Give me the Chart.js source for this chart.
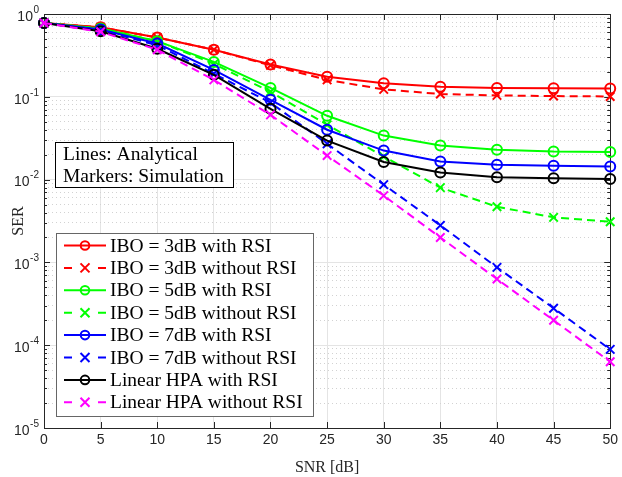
<!DOCTYPE html>
<html>
<head>
<meta charset="utf-8">
<script src="https://cdn.jsdelivr.net/npm/chart.js@4/dist/chart.umd.min.js"></script>
<style>
  html, body { margin: 0; padding: 0; background: #fff; }
</style>
</head>
<body>
<canvas id="myChart" width="622" height="477"></canvas>
<script>

// values
const snr = [0, 5, 10, 15, 20, 25, 30, 35, 40, 45, 50];

const ibo3WithRsi     = [0.78, 0.69, 0.52, 0.37, 0.245, 0.175, 0.146, 0.132, 0.128, 0.127, 0.126];
const ibo3WithoutRsi  = [0.78, 0.69, 0.52, 0.37, 0.24, 0.16, 0.123, 0.108, 0.104, 0.102, 0.101];
const ibo5WithRsi     = [0.78, 0.67, 0.47, 0.264, 0.128, 0.059, 0.034, 0.0258, 0.0229, 0.0218, 0.0215];
const ibo5WithoutRsi  = [0.78, 0.67, 0.47, 0.25, 0.115, 0.046, 0.019, 0.008, 0.0047, 0.0035, 0.0031];
const ibo7WithRsi     = [0.78, 0.65, 0.44, 0.211, 0.092, 0.04, 0.0224, 0.0165, 0.0151, 0.0147, 0.0144];
const ibo7WithoutRsi  = [0.78, 0.64, 0.42, 0.19, 0.085, 0.027, 0.0087, 0.0028, 0.00087, 0.00028, 0.000089];
const linearWithRsi   = [0.78, 0.62, 0.38, 0.184, 0.0715, 0.0296, 0.0163, 0.0122, 0.0107, 0.0104, 0.0102];
const linearWithoutRsi = [0.78, 0.61, 0.37, 0.16, 0.0605, 0.0195, 0.0064, 0.002, 0.00063, 0.0002, 0.000063];

const seriesLabels = [
    'IBO = 3dB with RSI', 'IBO = 3dB without RSI',
    'IBO = 5dB with RSI', 'IBO = 5dB without RSI',
    'IBO = 7dB with RSI', 'IBO = 7dB without RSI',
    'Linear HPA with RSI', 'Linear HPA without RSI'
];
const seriesValues = [
    ibo3WithRsi, ibo3WithoutRsi, ibo5WithRsi, ibo5WithoutRsi,
    ibo7WithRsi, ibo7WithoutRsi, linearWithRsi, linearWithoutRsi
];

const xTickValues = [0, 5, 10, 15, 20, 25, 30, 35, 40, 45, 50];
const yExponents = [-5, -4, -3, -2, -1, 0];
const noteLines = ['Lines: Analytical', 'Markers: Simulation'];

// styles
const seriesColors = ['#ff0000', '#ff0000', '#00ff00', '#00ff00', '#0000ff', '#0000ff', '#000000', '#ff00ff'];
const seriesDashed = [false, true, false, true, false, true, false, true];

const axisColor = '#262626';
const serifFont = '"Liberation Serif", "DejaVu Serif", serif';
const sansFont = '"Liberation Sans", Arial, sans-serif';
const boxFontSize = 19.5;

const yDecades = yExponents.map(e => Math.pow(10, e));
let yMinors = [];
yExponents.slice(0, -1).forEach(e => {
    for (let m = 2; m <= 9; m++) yMinors.push(m * Math.pow(10, e));
});

function drawMarker(ctx, dashed, color, px, py, r) {
    ctx.strokeStyle = color;
    ctx.lineWidth = 2;
    ctx.beginPath();
    if (dashed) {
        ctx.moveTo(px - r, py - r); ctx.lineTo(px + r, py + r);
        ctx.moveTo(px - r, py + r); ctx.lineTo(px + r, py - r);
    } else {
        ctx.arc(px, py, r, 0, Math.PI * 2);
    }
    ctx.stroke();
}

const framePlugin = {
    id: 'frame',
    beforeDatasetsDraw(chart) {
        const { ctx, chartArea: a, scales: { x, y } } = chart;
        ctx.save();
        ctx.strokeStyle = axisColor;
        ctx.lineWidth = 1;
        ctx.beginPath();
        xTickValues.forEach(v => {
            const px = Math.round(x.getPixelForValue(v)) + 0.5;
            ctx.moveTo(px, a.bottom); ctx.lineTo(px, a.bottom - 6);
            ctx.moveTo(px, a.top); ctx.lineTo(px, a.top + 6);
        });
        yDecades.forEach(v => {
            const py = Math.round(y.getPixelForValue(v)) + 0.5;
            ctx.moveTo(a.left, py); ctx.lineTo(a.left + 6, py);
            ctx.moveTo(a.right, py); ctx.lineTo(a.right - 6, py);
        });
        yMinors.forEach(v => {
            const py = Math.round(y.getPixelForValue(v)) + 0.5;
            ctx.moveTo(a.left, py); ctx.lineTo(a.left + 3, py);
            ctx.moveTo(a.right, py); ctx.lineTo(a.right - 3, py);
        });
        ctx.stroke();
        ctx.strokeRect(Math.round(a.left) + 0.5, Math.round(a.top) + 0.5,
            Math.round(a.right - a.left), Math.round(a.bottom - a.top));

        // y tick labels: 10 with a raised exponent
        ctx.fillStyle = axisColor;
        ctx.textBaseline = 'middle';
        yExponents.forEach(e => {
            const py = y.getPixelForValue(Math.pow(10, e));
            const expText = String(e);
            ctx.font = '10px ' + sansFont;
            ctx.textAlign = 'right';
            const expW = ctx.measureText(expText).width;
            ctx.fillText(expText, a.left - 5, py - 4);
            ctx.font = '14px ' + sansFont;
            ctx.fillText('10', a.left - 5 - expW - 0.5, py + 3);
        });
        ctx.restore();
    },
    afterDraw(chart) {
        const { ctx } = chart;
        ctx.save();

        // note box
        ctx.fillStyle = '#fff';
        ctx.strokeStyle = '#000';
        ctx.lineWidth = 1;
        ctx.fillRect(55.5, 142.5, 178, 45);
        ctx.strokeRect(55.5, 142.5, 178, 45);
        ctx.fillStyle = '#000';
        ctx.font = boxFontSize + 'px ' + serifFont;
        ctx.textAlign = 'left';
        ctx.textBaseline = 'alphabetic';
        noteLines.forEach((t, i) => ctx.fillText(t, 63, 160 + i * 21.5));

        // legend box
        ctx.fillStyle = '#fff';
        ctx.strokeStyle = '#666';
        ctx.fillRect(56.5, 233.5, 257, 183);
        ctx.strokeRect(56.5, 233.5, 257, 183);
        chart.data.datasets.forEach((ds, i) => {
            const cy = 245.5 + i * 22.4;
            const color = seriesColors[i];
            ctx.strokeStyle = color;
            ctx.lineWidth = 2;
            ctx.beginPath();
            if (seriesDashed[i]) {
                ctx.moveTo(64, cy); ctx.lineTo(72, cy);
                ctx.moveTo(98, cy); ctx.lineTo(106, cy);
            } else {
                ctx.moveTo(64, cy); ctx.lineTo(106, cy);
            }
            ctx.stroke();
            drawMarker(ctx, seriesDashed[i], color, 85, cy, seriesDashed[i] ? 4.5 : 4.3);
            ctx.fillStyle = '#000';
            ctx.font = boxFontSize + 'px ' + serifFont;
            ctx.textBaseline = 'middle';
            ctx.fillText(ds.label, 110, cy + 1);
        });
        ctx.restore();
    }
};

const data = {
    datasets: seriesValues.map((vals, i) => ({
        label: seriesLabels[i],
        data: vals.map((v, j) => ({ x: snr[j], y: v })),
        borderColor: seriesColors[i],
        borderWidth: 2,
        borderDash: seriesDashed[i] ? [8, 5] : [],
        pointStyle: seriesDashed[i] ? 'crossRot' : 'circle',
        pointRadius: seriesDashed[i] ? 6 : 5,
        pointBorderWidth: 2,
        pointBorderColor: seriesColors[i],
        pointBackgroundColor: 'rgba(0,0,0,0)',
        tension: 0,
        fill: false,
        clip: false,
        order: seriesValues.length - i
    }))
};

const config = {
    type: 'line',
    data,
    options: {
        responsive: false,
        animation: false,
        layout: { padding: { top: 14, right: 10, left: 0, bottom: 0 } },
        plugins: { legend: { display: false }, tooltip: { enabled: false } },
        scales: {
            x: {
                type: 'linear',
                min: 0,
                max: 50,
                afterBuildTicks: s => { s.ticks = xTickValues.map(v => ({ value: v })); },
                ticks: { color: axisColor, font: { family: sansFont, size: 14 }, padding: 4, maxRotation: 0 },
                grid: { color: '#e4e4e4', drawTicks: false },
                border: { display: false },
                title: { display: true, text: 'SNR [dB]', color: axisColor, font: { family: serifFont, size: 16 }, padding: { top: 5, bottom: 0 } },
                afterFit: s => { s.height = 49; }
            },
            y: {
                type: 'logarithmic',
                position: 'left',
                min: 1e-5,
                max: 1,
                afterBuildTicks: s => { s.ticks = yDecades.map(v => ({ value: v })); },
                ticks: { display: false },
                grid: { color: '#e4e4e4', drawTicks: false },
                border: { display: false },
                title: { display: true, text: 'SER', color: axisColor, font: { family: serifFont, size: 16 }, padding: { top: 9, bottom: 0 } },
                afterFit: s => { s.width = 44; }
            },
            yMinor: {
                type: 'logarithmic',
                position: 'left',
                min: 1e-5,
                max: 1,
                afterBuildTicks: s => { s.ticks = yMinors.map(v => ({ value: v })); },
                ticks: { display: false },
                grid: { color: '#d2d2d2', drawTicks: false },
                border: { display: false, dash: [1, 3] },
                afterFit: s => { s.width = 0; }
            }
        }
    },
    plugins: [framePlugin]
};

const myChart = new Chart(document.getElementById('myChart'), config);
</script>
</body>
</html>
